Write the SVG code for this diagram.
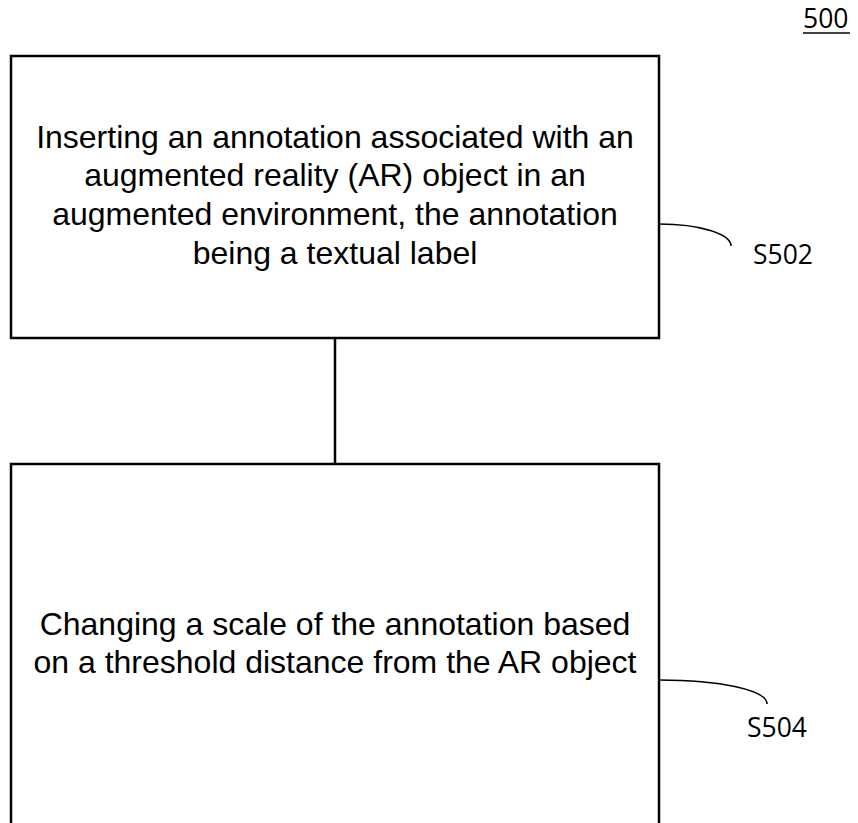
<svg xmlns="http://www.w3.org/2000/svg" width="858" height="823" viewBox="0 0 858 823">
<style>
.box{fill:#fff;stroke:#000;stroke-width:2.5}
.t{font-family:"Liberation Sans",Arial,sans-serif;font-size:32px;fill:#000;text-anchor:middle}
.lbl{font-family:"Open Sans","Liberation Sans",sans-serif;font-size:26.5px;fill:#000}
.lead{fill:none;stroke:#000;stroke-width:1.5}
.conn{fill:none;stroke:#000;stroke-width:2.5}
</style>
<rect width="858" height="823" fill="#fff"/>
<g id="fig-label">
<text class="lbl" x="803" y="28">500</text>
<line x1="803" y1="33" x2="850" y2="33" stroke="#000" stroke-width="1.5"/>
</g>
<g id="connectors">
<line class="conn" x1="335" y1="338" x2="335" y2="464"/>
<path class="lead" d="M659,224 C700,224 731,234 731,246"/>
<path class="lead" d="M659,680 C720,680 767,690 767,704"/>
</g>
<g id="S502">
<rect class="box" x="11" y="56" width="648" height="282"/>
<text class="t" x="335" y="148">Inserting an annotation associated with an</text>
<text class="t" x="335" y="186">augmented reality (AR) object in an</text>
<text class="t" x="335" y="225">augmented environment, the annotation</text>
<text class="t" x="335" y="264">being a textual label</text>
<text class="lbl" x="753" y="264">S502</text>
</g>
<g id="S504">
<rect class="box" x="11" y="464" width="648" height="380"/>
<text class="t" x="335" y="635">Changing a scale of the annotation based</text>
<text class="t" x="335" y="673">on a threshold distance from the AR object</text>
<text class="lbl" x="747" y="737">S504</text>
</g>
</svg>
